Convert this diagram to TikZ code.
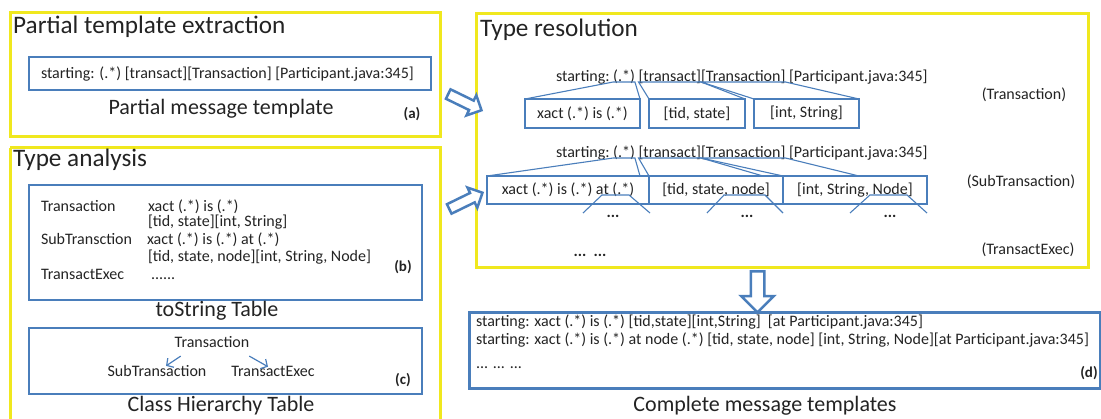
\documentclass[tikz,border=0pt]{standalone}
\usepackage{fontspec}
\setmainfont{Carlito}
\usetikzlibrary{shapes.arrows,arrows.meta}
\definecolor{ylw}{RGB}{240,232,30}
\definecolor{blu}{RGB}{74,126,187}
\definecolor{ink}{RGB}{35,35,35}
\begin{document}
\begin{tikzpicture}[x=1pt,y=-1pt,
  panel/.style={draw=ylw, line width=3pt},
  bbox/.style={draw=blu, line width=2.8pt, inner sep=0pt},
  tbox/.style={draw=blu, line width=1.1pt, inner sep=0pt, outer sep=0pt, text=ink, font=\fontsize{16}{18}\selectfont},
  ttl/.style={font=\fontsize{25.2}{28}\selectfont, text=ink, inner sep=0pt, anchor=base west},
  capt/.style={font=\fontsize{22}{26}\selectfont, text=ink, inner sep=0pt, anchor=base},
  txt/.style={font=\fontsize{16}{18}\selectfont, text=ink, inner sep=0pt, outer sep=0pt, anchor=base west},
  txc/.style={font=\fontsize{16}{18}\selectfont, text=ink, inner sep=0pt, outer sep=0pt, anchor=base},
  dots/.style={font=\bfseries\fontsize{16}{18}\selectfont, text=ink, inner sep=0pt, anchor=base},
  lbl/.style={font=\bfseries\fontsize{15}{16}\selectfont, text=ink, inner sep=0pt, anchor=base},
  thin/.style={draw=blu, line width=1.1pt},
  harr/.style={draw=blu, line width=1.2pt, -{Straight Barb[length=5pt,width=11pt]}},
  blk/.style={shape=single arrow, draw=blu, fill=white, line width=2.5pt, inner xsep=0pt,
              single arrow tip angle=90},
]
\useasboundingbox (0,0) rectangle (1101,419);

% ---------- panel (a)
\draw[panel] (10,13) rectangle (440,137);
\node[ttl] (ta) at (13,34) {Partial template extraction};
\node[bbox, minimum width=402pt, minimum height=33pt] (tpa) at (230,73.5) {};
\node[txt] (tpat) at (41,78.5) {starting: (.*) [transact][Transaction] [Participant.java:345]};
\node[capt] (ca) at (221,115) {Partial message template};
\node[lbl] (la) at (412,119) {(a)};

% ---------- panel (b)/(c)
\draw[panel] (10,148) -- (10,430) (440,430) -- (440,148) -- (10,148);
\node[ttl] (tb) at (13,167) {Type analysis};
\node[bbox, minimum width=393pt, minimum height=115pt] (tsb) at (225.5,242.5) {};
\node[txt] (t1) at (41,212) {Transaction};
\node[txt] (t1a) at (148,212) {xact (.*) is (.*)};
\node[txt] (t1b) at (148,227) {[tid, state][int, String]};
\node[txt] (t2) at (41,245) {SubTransction};
\node[txt] (t2a) at (147,245) {xact (.*) is (.*) at (.*)};
\node[txt] (t2b) at (148,262) {[tid, state, node][int, String, Node]};
\node[txt] (t3) at (41,280) {TransactExec};
\node[txt] (t3a) at (151,280) {......};
\node[lbl] (lb) at (403,272) {(b)};
\node[capt] (cb) at (217,317) {toString Table};

\node[bbox, minimum width=393pt, minimum height=66pt] (chb) at (225.5,361) {};
\node[txc] (ct) at (212,348) {Transaction};
\node[txc] (cs) at (157,377) {SubTransaction};
\node[txc] (ce) at (273,377) {TransactExec};
\draw[harr] ([shift={(6,8)}]ct.south west) -- ([shift={(9,0)}]cs.north);
\draw[harr] ([shift={(0,8)}]ct.south east) -- ([shift={(-5,0)}]ce.north);
\node[lbl] (lc) at (403,385) {(c)};
\node[capt] (cc) at (221,412) {Class Hierarchy Table};

% ---------- panel type resolution
\draw[panel] (476,14) rectangle (1088,268);
\node[ttl] (tr) at (480,37) {Type resolution};

% row 1
\node[txt] (r1a) at (556,82) {starting:};
\node[txt] (r1b) at ([xshift=3.6pt]r1a.base east) {(.*)};
\node[txt] (r1c) at ([xshift=3.6pt]r1b.base east) {[transact]};
\node[txt] (r1d) at (r1c.base east) {[Transaction]};
\node[txt] (r1e) at ([xshift=3.6pt]r1d.base east) {[Participant.java:345]};
\node[tbox, minimum width=115pt, minimum height=29pt] (b11) at (582.5,113.5) {xact (.*) is (.*)};
\node[tbox, minimum width=96pt, minimum height=29pt] (b12) at (697,113.5) {[tid, state]};
\node[tbox, minimum width=105pt, minimum height=29pt] (b13) at (806.5,113.5) {[int, String]};
\draw[thin] (b11.north west) -- (r1b.base west) -- (r1b.base east) -- (b11.north east);
\draw[thin] (b12.north west) -- (r1c.base west) -- (r1c.base east) -- (b12.north east);
\draw[thin] (b13.north west) -- (r1d.base west) -- (r1d.base east) -- (b13.north east);
\node[txc] (s1) at (1024,100) {(Transaction)};

% row 2
\node[txt] (r2a) at (556,158) {starting:};
\node[txt] (r2b) at ([xshift=3.6pt]r2a.base east) {(.*)};
\node[txt] (r2c) at ([xshift=3.6pt]r2b.base east) {[transact]};
\node[txt] (r2d) at (r2c.base east) {[Transaction]};
\node[txt] (r2e) at ([xshift=3.6pt]r2d.base east) {[Participant.java:345]};
\node[tbox, minimum width=162pt, minimum height=28pt] (b21) at (568,190) {xact (.*) is (.*) at (.*)};
\node[tbox, minimum width=134pt, minimum height=28pt] (b22) at (716,190) {[tid, state, node]};
\node[tbox, minimum width=144pt, minimum height=28pt] (b23) at (855,190) {[int, String, Node]};
\draw[thin] (b21.north west) -- (r2b.base west) -- (r2b.base east) -- ([xshift=-9pt]b21.north east);
\draw[thin] (b22.north west) -- (r2c.base west) -- (r2c.base east) -- ([xshift=-20pt]b22.north east);
\draw[thin] (b22.north east) -- (r2d.base west) -- (r2d.base east) -- ([xshift=-68pt]b23.north east);
\draw[thin] (583,213) -- (602,195) -- (629,195) -- (650,213);
\draw[thin] (707,213) -- (724,195) -- (765,195) -- (783,213);
\draw[thin] (850,213) -- (870,195) -- (907,195) -- (927,213);
\node[dots] (d1) at (613,218) {...};
\node[dots] (d2) at (747,218) {...};
\node[dots] (d3) at (890,218) {...};
\node[txc] (s2) at (1021,187) {(SubTransaction)};
\node[dots] (d4) at (590,257) {...\ \ ...};
\node[txc] (s3) at (1028,255) {(TransactExec)};

% ---------- panel (d)
\node[bbox, minimum width=631pt, minimum height=76pt, anchor=north west] (pd) at (468,311) {};
\node[txt] (m1) at (476,327) {starting: xact (.*) is (.*) [tid,state][int,String]\ \ [at Participant.java:345]};
\node[txt] (m2) at (476,345) {starting: xact (.*) is (.*) at node (.*) [tid, state, node] [int, String, Node][at Participant.java:345]};
\node[txt] (m3) at (476,369) {... ... ...};
\node[lbl] (ld) at (1089,378) {(d)};
\node[capt] (cd) at (765,412) {Complete message templates};

% ---------- block arrows
\node[blk, minimum height=37pt, inner ysep=4pt, single arrow head extend=6pt, rotate=-26] (arA) at (462.5,101) {};
\node[blk, minimum height=37pt, inner ysep=4pt, single arrow head extend=6pt, rotate=26] (arB) at (463.5,202) {};
\node[blk, minimum height=41pt, inner ysep=5.5pt, single arrow head extend=9.5pt, rotate=-90] (arC) at (757.5,288.5) {};
\end{tikzpicture}
\end{document}
